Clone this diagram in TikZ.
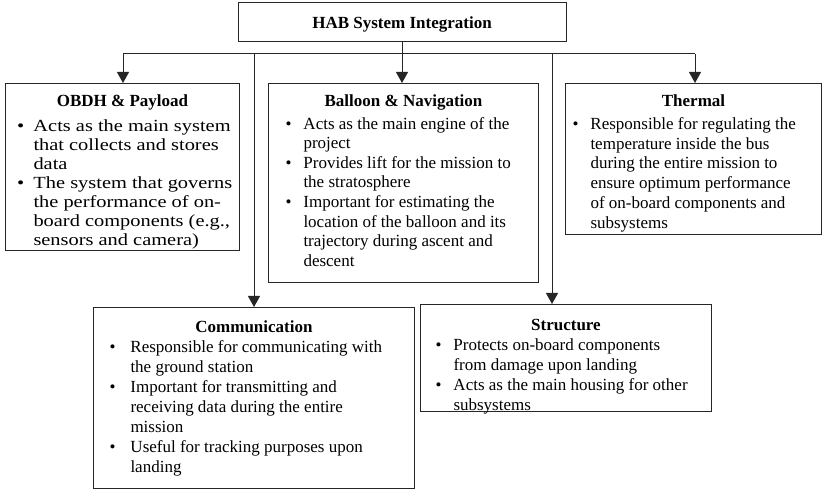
\documentclass[tikz,border=0pt]{standalone}
\usepackage{fontspec}
\setmainfont{Liberation Serif}
\newfontfamily\widebody[FakeStretch=1.2]{Liberation Serif}
\usetikzlibrary{arrows.meta}
\newcommand{\boxtitle}[2]{\noindent\makebox[\linewidth][c]{\rule{0pt}{#1}\bfseries #2}\par}
\newcommand{\bitem}[3]{\par\noindent\hangindent=#2\hangafter=1\makebox[#2][l]{\hspace{#1}•}#3\par}
\tikzset{
  sysbox/.style={draw=black!85, line width=1pt, inner sep=0pt, anchor=north west, align=left},
  arr/.style={draw=black!85, line width=1pt, -{Triangle[width=12pt,length=11pt]}},
  plain/.style={draw=black!85, line width=1pt}
}
\begin{document}
\begin{tikzpicture}[x=1pt,y=-1pt]
\useasboundingbox (0,0) rectangle (823,489);
\fontsize{17}{19.7}\selectfont

\node[sysbox, anchor=center, minimum width=328pt, minimum height=39pt, text height=14pt, text depth=2pt] (top) at (402,22.5)
  {\bfseries HAB System Integration};

\node[sysbox] (obdh) at (5,83) {\begin{minipage}[t][167pt][t]{234pt}\fontsize{17}{19}\selectfont
\boxtitle{23pt}{OBDH \& Payload}\vspace{6pt}
\widebody
\bitem{11.5pt}{28pt}{Acts as the main system\newline that collects and stores\newline data}
\bitem{11.5pt}{28pt}{The system that governs\newline the performance of on-\newline board components (e.g.,\newline sensors and camera)}
\end{minipage}};

\node[sysbox] (bal) at (268,83) {\begin{minipage}[t][199pt][t]{270pt}\fontsize{17}{19.6}\selectfont
\boxtitle{23pt}{Balloon \& Navigation}\vspace{3pt}
\bitem{17pt}{35pt}{Acts as the main engine of the\newline project}
\bitem{17pt}{35pt}{Provides lift for the mission to\newline the stratosphere}
\bitem{17pt}{35pt}{Important for estimating the\newline location of the balloon and its\newline trajectory during ascent and\newline descent}
\end{minipage}};

\node[sysbox] (th) at (565,83) {\begin{minipage}[t][151pt][t]{256pt}\fontsize{17}{19.8}\selectfont
\boxtitle{23pt}{Thermal}\vspace{3pt}
\bitem{7pt}{25pt}{Responsible for regulating the\newline temperature inside the bus\newline during the entire mission to\newline ensure optimum performance\newline of on-board components and\newline subsystems}
\end{minipage}};

\node[sysbox] (com) at (93,307) {\begin{minipage}[t][181pt][t]{321pt}\fontsize{17}{20}\selectfont
\boxtitle{25.5pt}{Communication}
\bitem{16pt}{37pt}{Responsible for communicating with\newline the ground station}
\bitem{16pt}{37pt}{Important for transmitting and\newline receiving data during the entire\newline mission}
\bitem{16pt}{37pt}{Useful for tracking purposes upon\newline landing}
\end{minipage}};

\node[sysbox] (st) at (420,304) {\begin{minipage}[t][107pt][t]{291pt}\fontsize{17}{20}\selectfont
\boxtitle{26.5pt}{Structure}
\bitem{15pt}{33pt}{Protects on-board components\newline from damage upon landing}
\bitem{15pt}{33pt}{Acts as the main housing for other\newline subsystems}
\end{minipage}};

\coordinate (hl) at (123,54);
\coordinate (hr) at (695,54);
\coordinate (vc) at (254,54);
\coordinate (vs) at (552,54);

\draw[plain] (hl) -- (hr);
\draw[arr] (top.south) -- (top.south |- bal.north);
\draw[arr] (hl) -- (hl |- obdh.north);
\draw[arr] (hr) -- (hr |- th.north);
\draw[arr] (vc) -- (vc |- com.north);
\draw[arr] (vs) -- (vs |- st.north);
\end{tikzpicture}
\end{document}
